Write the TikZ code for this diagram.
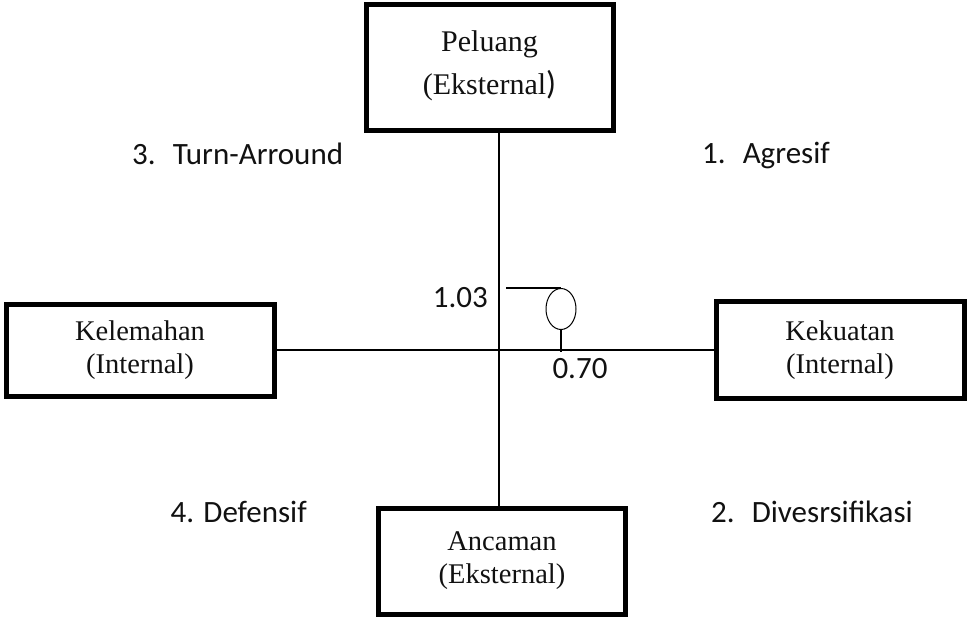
\documentclass[tikz,border=0pt]{standalone}
\usepackage{fontspec}
\usepackage{xcolor}
\usepackage{tikz}
\usetikzlibrary{positioning,calc,shapes.geometric}
\setmainfont{Liberation Serif}
\newfontfamily\calib{Carlito}
\definecolor{sline}{HTML}{000000}
\definecolor{sbody}{HTML}{111111}

\begin{document}
\begin{tikzpicture}[x=1pt, y=-1pt,
  box/.style={draw=sline, line width=5pt, fill=white, text=sbody,
              align=center, inner sep=0pt,
              font=\fontsize{28.5}{33}\selectfont},
  quad/.style={font=\calib\fontsize{31}{36}\selectfont, text=sbody, inner sep=0pt},
  axis/.style={draw=sline, line width=2pt}]
  \useasboundingbox (0,0) rectangle (968,618);
  % --- four SWOT boxes
  \node[box, minimum width=247pt, minimum height=125pt,
        font=\fontsize{30}{43}\selectfont] (pel) at (489.5,67.5)
        {Peluang\\(Eksternal{\calib\fontsize{33}{43}\selectfont)}\rule[-10pt]{0pt}{0pt}};
  \node[box, minimum width=268pt, minimum height=92pt]  (kel) at (140,350) {Kelemahan\\(Internal)};
  \node[box, minimum width=248pt, minimum height=97pt]  (kek) at (840,350) {Kekuatan\\(Internal)};
  \node[box, minimum width=247pt, minimum height=106pt] (anc) at (502,561) {Ancaman\\(Eksternal)};
  % --- axes
  \coordinate (o) at (499,350);
  \draw[axis] (o |- pel.south) -- (o |- anc.north);
  \draw[axis] (kel.east) -- (kek.west);
  % --- position marker
  \coordinate (tick) at (506,288);
  \node[draw=sline, line width=1pt, ellipse, minimum width=30pt, minimum height=41pt,
        inner sep=0pt, anchor=north] (pos) at (561,288) {};
  \draw[axis] (tick) -- (pos.north);
  \draw[axis] (pos.south) -- (pos.south |- 0,352);
  \node[quad, anchor=base east] (ey) at (488,307) {1.03};
  \node[quad, anchor=base]      (ex) at (580,378) {0.70};
  % --- quadrant labels
  \node[quad, anchor=base west] (q3) at (132,164) {3.\hspace{.55em}Turn-Arround};
  \node[quad, anchor=base west] (q1) at (702,163) {1.\hspace{.55em}Agresif};
  \node[quad, anchor=base east] (q4) at (307,522) {4. Defensif};
  \node[quad, anchor=base east] (q2) at (913,522) {2.\hspace{.55em}Divesrsifikasi};
\end{tikzpicture}
\end{document}
